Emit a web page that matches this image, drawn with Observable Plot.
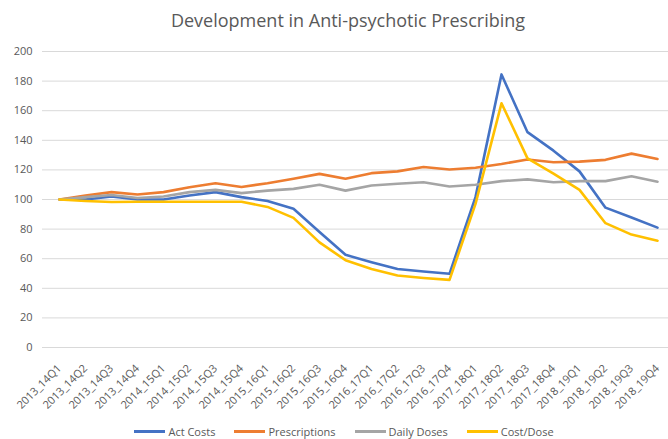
<!DOCTYPE html>
<html>
<head>
<meta charset="utf-8">
<script src="https://cdn.jsdelivr.net/npm/d3@7"></script>
<script src="https://cdn.jsdelivr.net/npm/@observablehq/plot@0.6"></script>
<style>
  html, body { margin: 0; padding: 0; background: #fff; }
  body { width: 668px; height: 439px; overflow: hidden; font-family: "Open Sans", "Noto Sans", sans-serif; color: #595959; }
  #title { height: 38px; text-align: center; font-size: 18px; line-height: 18px; box-sizing: border-box; position: relative; }
  #title span { position: absolute; left: 0; right: 0; top: 11px; padding-left: 28px; }
  #legend { position: absolute; top: 424px; left: 0; width: 668px; display: flex; justify-content: center; gap: 19px; font-size: 11px; padding-left: 20px; box-sizing: border-box; }
  .item { display: flex; align-items: center; gap: 3px; }
  .sw { width: 31px; height: 3px; display: inline-block; }
</style>
</head>
<body>
<div id="title"><span>Development in Anti-psychotic Prescribing</span></div>
<div id="chart"></div>
<div id="legend"></div>
<script>
const quarters = [
  "2013_14Q1","2013_14Q2","2013_14Q3","2013_14Q4",
  "2014_15Q1","2014_15Q2","2014_15Q3","2014_15Q4",
  "2015_16Q1","2015_16Q2","2015_16Q3","2015_16Q4",
  "2016_17Q1","2016_17Q2","2016_17Q3","2016_17Q4",
  "2017_18Q1","2017_18Q2","2017_18Q3","2017_18Q4",
  "2018_19Q1","2018_19Q2","2018_19Q3","2018_19Q4"
];
const seriesNames = ["Act Costs", "Prescriptions", "Daily Doses", "Cost/Dose"];
const seriesColors = ["#4472C4", "#ED7D31", "#A5A5A5", "#FFC000"];
const actCosts      = [100, 100, 102, 100, 100, 102.7, 105, 101.6, 99, 93.7, 78, 62.6, 57.6, 53, 51.3, 49.8, 101.6, 184.5, 145.5, 133, 119, 94.5, 87.8, 81];
const prescriptions = [100, 102.7, 105, 103.4, 105, 108.3, 111, 108.5, 111, 114, 117.3, 114, 117.8, 119, 122, 120.3, 121.5, 124, 127, 125.2, 125.6, 126.8, 131, 127.4];
const dailyDoses    = [100, 101.6, 103, 101, 102, 105, 106.5, 104.3, 106, 107.2, 110, 106, 109.5, 110.6, 111.7, 108.8, 110, 112.4, 113.6, 111.7, 112.4, 112.4, 115.7, 112];
const costPerDose   = [100, 99, 98.3, 98.5, 98.5, 98.5, 98.5, 98.5, 95, 87.6, 71, 59, 53, 48.6, 47, 45.7, 97, 165, 127.8, 117.5, 106.5, 84, 76.3, 72.2];
const yTicks = [0, 20, 40, 60, 80, 100, 120, 140, 160, 180, 200];

const seriesValues = [actCosts, prescriptions, dailyDoses, costPerDose];
const rows = [];
seriesNames.forEach((name, s) => {
  quarters.forEach((q, i) => rows.push({quarter: q, value: seriesValues[s][i], series: name}));
});

const textColor = "#595959";
const chart = Plot.plot({
  width: 668,
  height: 380,
  marginLeft: 42,
  marginRight: 0,
  marginTop: 13,
  marginBottom: 71,
  style: {fontFamily: "'Open Sans', 'Noto Sans', sans-serif", fontSize: "11px", color: textColor, background: "#fff"},
  x: {type: "point", domain: quarters, range: [55, 660], padding: 0, label: null},
  y: {domain: [0, 200], label: null},
  color: {domain: seriesNames, range: seriesColors},
  marks: [
    Plot.ruleY(yTicks, {stroke: "#d9d9d9", strokeWidth: 1}),
    Plot.axisY({ticks: yTicks, tickSize: 0, tickPadding: 10, label: null, fill: textColor, fontSize: 11}),
    Plot.axisX({tickSize: 0, tickRotate: -45, tickPadding: 19, dx: 0, label: null, fill: textColor, fontSize: 11}),
    Plot.line(rows, {x: "quarter", y: "value", z: "series", stroke: "series", strokeWidth: 2.6, strokeLinejoin: "round", strokeLinecap: "round"})
  ]
});
document.getElementById("chart").appendChild(chart);

const legend = document.getElementById("legend");
seriesNames.forEach((name, i) => {
  const item = document.createElement("div");
  item.className = "item";
  const sw = document.createElement("span");
  sw.className = "sw";
  sw.style.background = seriesColors[i];
  const label = document.createElement("span");
  label.textContent = name;
  item.appendChild(sw);
  item.appendChild(label);
  legend.appendChild(item);
});
</script>
</body>
</html>
